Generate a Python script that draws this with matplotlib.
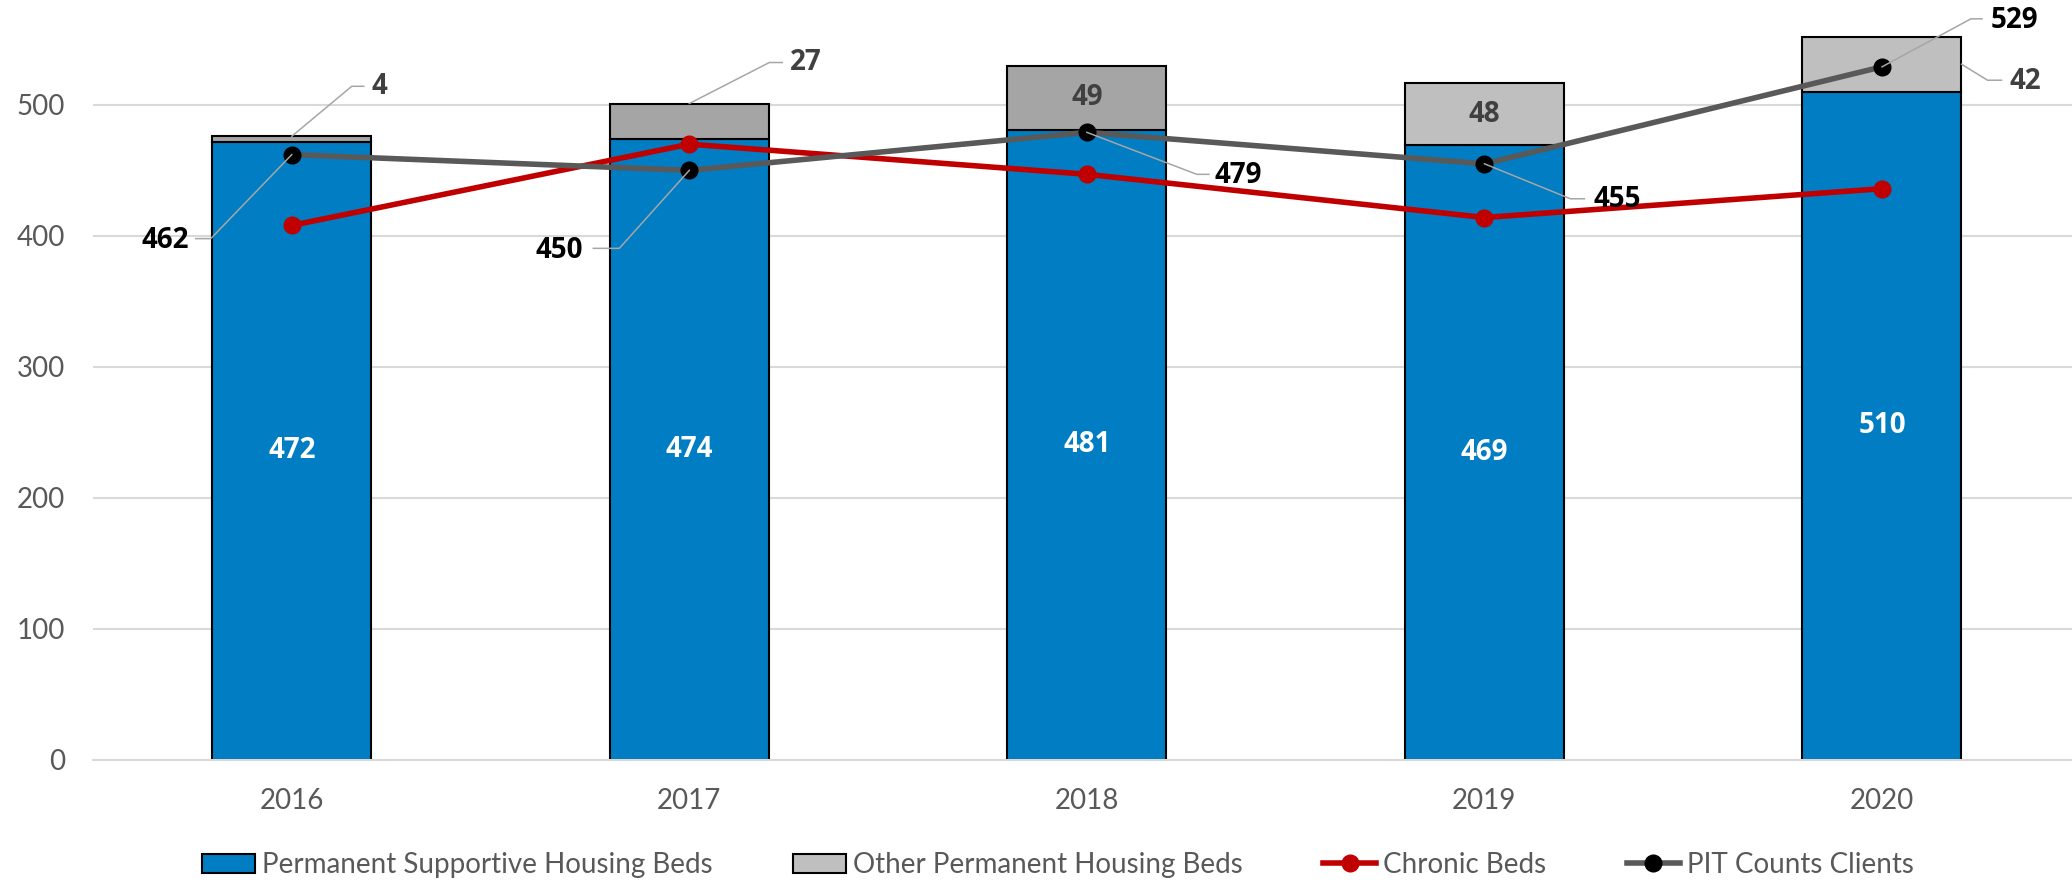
import numpy as np
import matplotlib.pyplot as plt
from matplotlib.patches import Patch
from matplotlib.lines import Line2D
from matplotlib.transforms import IdentityTransform

plt.rcParams['font.family'] = ['Lato', 'DejaVu Sans']
bold_font = dict(family=['Open Sans', 'DejaVu Sans'], size=20, weight='bold')

years = ['2016', '2017', '2018', '2019', '2020']
psh_beds = [472, 474, 481, 469, 510]
other_beds = [4, 27, 49, 48, 42]
chronic_beds = [408, 470, 447, 414, 436]
pit_counts = [462, 450, 479, 455, 529]

blue = '#007DC3'
grey_seg = ['#A5A5A5', '#A5A5A5', '#A5A5A5', '#BFBFBF', '#BFBFBF']
red = '#C00000'
line_grey = '#595959'
leader_col = '#A6A6A6'

fig = plt.figure(figsize=(20.72, 8.82), dpi=100)
ax = fig.add_axes([93 / 2072, 122 / 882, 1979 / 2072, 760 / 882])

x = np.arange(len(years))
w = 0.4
ax.bar(x, psh_beds, w, color=blue, edgecolor='black', linewidth=1.5, zorder=2)
ax.bar(x, other_beds, w, bottom=psh_beds, color=grey_seg, edgecolor='black',
       linewidth=1.5, zorder=2)
ax.plot(x, chronic_beds, color=red, lw=4, marker='o', ms=12,
        mfc=red, mec=red, zorder=4)
ax.plot(x, pit_counts, color=line_grey, lw=4, marker='o', ms=12,
        mfc='black', mec='black', zorder=5)

ax.set_xlim(-0.5, (2072 - 292) / 397.5)
ax.set_ylim(0, 580)
ax.set_yticks([0, 100, 200, 300, 400, 500])
ax.set_xticks(x)
ax.set_xticklabels(years)
ax.yaxis.grid(True, color='#D9D9D9', lw=1.5, zorder=0)
ax.set_axisbelow(True)
for s in ['top', 'right', 'left']:
    ax.spines[s].set_visible(False)
ax.spines['bottom'].set_color('#D9D9D9')
ax.spines['bottom'].set_linewidth(1.5)
ax.tick_params(axis='both', length=0, labelsize=20, colors='#595959')
ax.tick_params(axis='y', pad=20)
ax.tick_params(axis='x', pad=20)

# labels inside bars
for i in range(len(years)):
    ax.text(x[i], psh_beds[i] / 2, str(psh_beds[i]), ha='center', va='center',
            color='white', fontdict=bold_font, zorder=6)
for i in [2, 3]:
    ax.text(x[i], psh_beds[i] + other_beds[i] / 2, str(other_beds[i]),
            ha='center', va='center', color='#404040', fontdict=bold_font,
            zorder=6)


def leader(xv, yv, corner, end, toff, txt, ha, col):
    # offsets in image pixels (y down)
    p = ax.transData.transform((xv, yv))
    xs = [p[0], p[0] + corner[0], p[0] + end[0]]
    ys = [p[1], p[1] - corner[1], p[1] - end[1]]
    ax.add_line(Line2D(xs, ys, transform=IdentityTransform(), color=leader_col,
                       lw=1.1, zorder=7))
    ax.annotate(txt, xy=(xv, yv), xytext=(toff[0], -toff[1]),
                textcoords='offset pixels', ha=ha, va='center', color=col,
                zorder=8, **bold_font)


tot = [a + b for a, b in zip(psh_beds, other_beds)]
leader(x[0], tot[0], (60, -50), (72, -50), (80, -50), str(other_beds[0]), 'left', '#404040')
leader(x[1], tot[1], (80, -41), (93, -41), (101, -41), str(other_beds[1]), 'left', '#404040')
leader(x[4] + w / 2, psh_beds[4] + other_beds[4] / 2, (26, 16), (40, 16), (48, 17),
       str(other_beds[4]), 'left', '#404040')

leader(x[0], pit_counts[0], (-81, 84), (-96, 84), (-103, 86), str(pit_counts[0]), 'right', 'black')
leader(x[1], pit_counts[1], (-70, 78), (-96, 78), (-106, 80), str(pit_counts[1]), 'right', 'black')
leader(x[2], pit_counts[2], (110, 42), (122, 42), (128, 43), str(pit_counts[2]), 'left', 'black')
leader(x[3], pit_counts[3], (86, 35), (100, 35), (109, 36), str(pit_counts[3]), 'left', 'black')
leader(x[4], pit_counts[4], (89, -48), (100, -48), (109, -46), str(pit_counts[4]), 'left', 'black')

handles = [
    Patch(facecolor=blue, edgecolor='black', lw=1.5),
    Patch(facecolor='#BFBFBF', edgecolor='black', lw=1.5),
    Line2D([0], [0], color=red, lw=4, marker='o', ms=12, mfc=red, mec=red),
    Line2D([0], [0], color=line_grey, lw=4, marker='o', ms=12, mfc='black', mec='black'),
]
labels = ['Permanent Supportive Housing Beds', 'Other Permanent Housing Beds',
          'Chronic Beds', 'PIT Counts Clients']
leg = fig.legend(handles, labels, loc='center', bbox_to_anchor=(0.5106, 17 / 882),
                 ncol=4, frameon=False, fontsize=20, handlelength=1.9,
                 handleheight=0.65, handletextpad=0.25, columnspacing=2.9)
for t in leg.get_texts():
    t.set_color('#595959')

fig.savefig('out.png', dpi=100)
